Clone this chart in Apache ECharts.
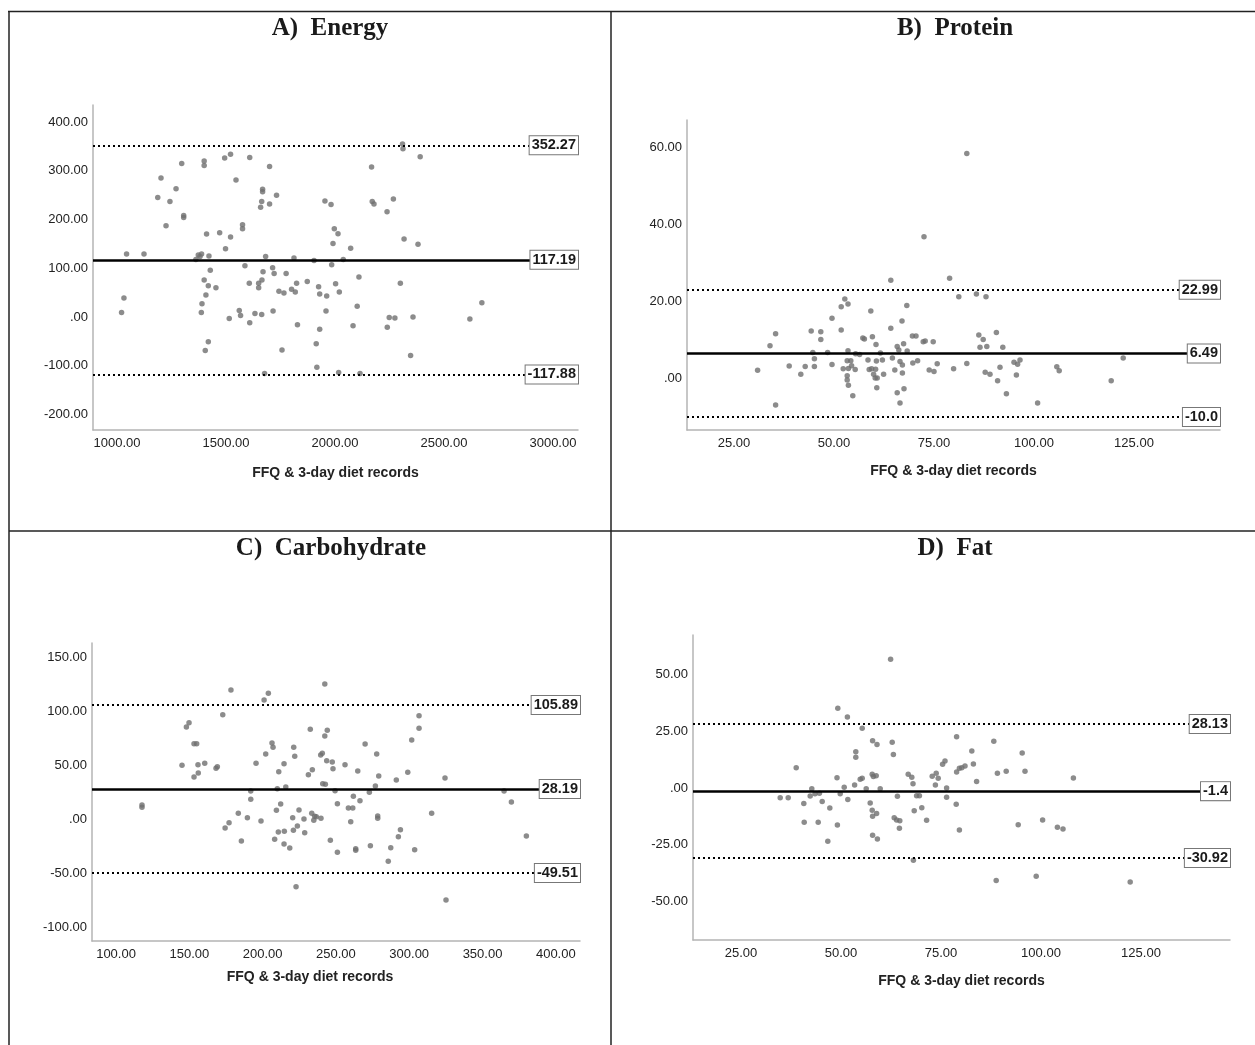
<!DOCTYPE html>
<html>
<head>
<meta charset="utf-8">
<script src="https://cdn.jsdelivr.net/npm/echarts@6/dist/echarts.min.js"></script>
<style>
  html, body { margin: 0; padding: 0; background: #fff; }
  #main { width: 1255px; height: 1045px; }
</style>
</head>
<body>
<div id="main"></div>
<script>
// Bland-Altman points: [mean of FFQ & 3-day records, difference]
var energyPoints = [
  [1044,129],[1124,129],[1032,39],[1021,9],[1297,315],[1202,285],[1271,263],[1187,245],[1243,237],
  [1306,208],[1306,204],[1225,187],[1400,320],[1400,311],[1494,326],[1521,334],[1609,327],[1700,309],
  [1546,281],[1668,262],[1668,257],[1664,237],[1659,225],[1700,232],[1732,250],[1576,189],[1576,181],
  [1411,170],[1471,173],[1521,164],[1498,140],[1362,118],[1373,127],[1388,129],[1381,124],[1422,125],
  [1428,96],[1400,76],[1419,64],[1454,60],[1408,45],[1390,27],[1387,9],[1419,-51],[1405,-69],
  [1682,124],[1587,105],[1714,101],[1721,89],[1670,93],[1665,76],[1650,69],[1650,60],[1607,69],
  [1776,89],[1743,53],[1766,49],[1812,121],[1801,57],[1818,51],[1824,69],[1873,73],[1904,116],
  [1561,13],[1567,3],[1515,-3],[1633,7],[1664,5],[1609,-12],[1716,12],[1828,-16],[1757,-68],
  [1677,-116],[1917,-103],[1914,-55],[1930,-25],[1959,12],[1925,62],[1930,47],[1962,43],[1954,238],
  [1982,231],[1997,181],[1991,151],[2014,171],[1985,107],[2003,68],[2020,51],[2017,-114],[2072,141],
  [2038,118],[2110,82],[2102,22],[2083,-18],[2115,-116],[2168,308],[2171,237],[2179,232],[2268,242],
  [2239,216],[2310,355],[2312,345],[2391,329],[2317,160],[2381,149],[2300,69],[2249,-1],[2275,-2],
  [2358,0],[2240,-21],[2347,-79],[2619,-4],[2674,29]
];
var proteinPoints = [
  [30.9,2.1],[35.4,11.6],[34,8.5],[35.4,-6.9],[38.8,3.2],[41.7,1.1],[42.8,3.1],[44.3,12.3],[46.7,12.1],
  [46.7,10.1],[44.7,6.7],[45.1,5.1],[45.1,3.1],[48.4,6.7],[49.5,3.6],[49.5,15.6],[51.8,12.6],[51.8,18.6],
  [52.7,20.6],[53.5,19.3],[53.5,7.2],[53.3,4.6],[54.2,4.6],[52.3,2.5],[53.6,2.6],[54.4,3.3],[55.3,2.3],
  [53.3,0.7],[53.3,-0.4],[53.6,-1.8],[54.7,-4.5],[55.4,6.4],[56.4,6.2],[59.2,17.5],[57.2,10.5],[57.6,10.2],
  [59.6,10.8],[60.5,8.8],[58.5,4.8],[58.8,2.3],[59.4,2.5],[60.6,4.5],[60.4,2.4],[59.9,1.1],[60.3,0.1],
  [60.8,0.1],[60.7,-2.4],[61.6,6.6],[62.1,4.8],[62.4,1.1],[64.2,25.5],[64.2,13.0],[64.6,5.3],[65.2,2.2],
  [65.8,8.3],[66.2,7.4],[65.8,-3.7],[66.5,-6.4],[66.5,4.4],[67.1,3.5],[67.1,1.4],[67.5,-2.7],[67,14.9],
  [67.4,9.0],[68.2,18.9],[68.3,7.1],[69.6,11.0],[70.5,11.0],[69.7,4.0],[70.9,4.6],[72.3,9.5],[72.8,9.7],
  [72.5,36.8],[73.8,2.2],[75,1.8],[74.8,9.5],[75.8,3.8],[78.9,26.0],[79.9,2.5],[83.2,58.4],[81.2,21.2],
  [85.6,21.9],[88,21.2],[83.2,3.9],[86.2,11.3],[87.3,10.1],[86.5,8.1],[88.2,8.3],[90.6,11.9],[92.2,8.1],
  [87.8,1.6],[89,1.1],[90.9,-0.6],[91.5,2.9],[93.1,-4.0],[95,4.2],[95.9,3.7],[96.5,4.8],[95.6,0.9],
  [100.9,-6.4],[105.7,3.0],[106.3,2.0],[119.3,-0.6],[122.3,5.3]
];
var carbPoints = [
  [117.7,13.4],[117.7,11.3],[145,50.2],[148,85.6],[149.8,89.6],[153.2,70.2],[155,70.2],[155.9,50.7],
  [153.2,39.4],[156.1,43.1],[160.5,52],[168.2,47.4],[169.1,48.9],[172.8,97],[178.4,119.9],[174.4,-7.9],
  [177.1,-3],[183.4,5.7],[185.5,-19.9],[189.6,1.7],[191.9,26.4],[191.9,18.7],[195.5,52],[198.9,-1.4],
  [201,110.6],[203.9,116.9],[202.1,60.6],[206.4,70.8],[207.1,66.8],[210,28.5],[211,44.3],[214.6,51.7],
  [215.8,30.1],[212.3,14.4],[209.4,8.5],[208.2,-18.3],[210.7,-11.6],[214.8,-10.9],[214.6,-22.7],
  [218.5,-26.4],[220.5,1.7],[221,-10],[223.7,-6],[224.8,8.8],[222.8,-62.2],[221.2,66.8],[221.9,58.5],
  [228.2,0.5],[228.7,-12.2],[231.2,41.4],[233.9,46.1],[232.5,83.5],[233.5,5.7],[235.5,3],[234.9,-0.7],
  [236.6,2.6],[239.8,1.1],[239.6,59.7],[240.7,61.3],[242.4,77.3],[244.1,82.6],[242.4,125.5],[243.7,54.4],
  [241,33.1],[242.8,32.6],[247.5,53.2],[248,47],[249.4,26.7],[251,14.6],[246.2,-19.3],[251,-30.4],
  [256.2,50.7],[264.9,44.9],[269.9,69.9],[277.8,60.6],[279.2,40.3],[276.9,31],[272.8,25.2],[266.4,17.4],
  [261.9,21.5],[258.5,10.6],[261.5,10.6],[260.1,-2],[278.5,3.2],[278.5,1.1],[273.5,-24.3],[263.5,-27],
  [263.5,-28.5],[285.7,-38.7],[287.4,-26.1],[292.6,-15.9],[294,-9.4],[303.7,-28],[291.2,36.6],[299,43.7],
  [301.7,73.6],[306.7,84.4],[306.7,96.1],[315.3,5.7],[324.4,38.4],[325.1,-74.5],[364.7,26.4],[369.7,16.2],
  [379.9,-15.3]
];
var fatPoints = [
  [62.4,56.7],[49.2,35.1],[51.6,31.3],[55.3,26.3],[57.9,20.8],[59,19.2],[62.8,20.1],[63.1,14.7],[53.7,16],
  [53.7,13.5],[38.8,8.9],[49,4.5],[50.8,0.3],[53.4,1.3],[54.8,3.8],[55.3,4.3],[56.3,-0.4],[57.8,6],
  [58.1,5],[58.8,5.4],[59.8,-0.4],[34.8,-4.3],[36.8,-4.3],[40.7,-6.9],[40.8,-15.1],[42.3,-3.5],[42.7,-0.3],
  [43.5,-2.6],[44.6,-2.3],[45.3,-6],[44.3,-15.1],[47.2,-8.8],[46.7,-23.5],[49.1,-16.3],[49.8,-2.5],
  [51.7,-5.1],[57.3,-6.6],[57.8,-9.8],[58.9,-11.3],[57.9,-12.5],[57.9,-20.8],[59.1,-22.5],[64.1,-3.7],
  [63.3,-13.1],[63.9,-14.1],[64.7,-14.5],[64.6,-17.8],[66.8,6],[67.7,4.7],[68,1.9],[68.9,-3.4],[69.6,-3.4],
  [70.2,-8.7],[68.3,-10],[71.4,-14.2],[68.1,-31.9],[72.8,5.2],[73.8,6.5],[74.3,4.3],[73.6,1.3],[76.4,0],
  [76.4,-4.1],[75.4,10.4],[76,11.9],[78.9,22.6],[78.9,7],[79.6,8.7],[78.8,-7.2],[79.6,-18.5],[80.2,8.9],
  [81,9.7],[82.7,16.3],[83.1,10.6],[83.9,2.8],[88.2,20.6],[89.1,6.5],[91.3,7.4],[95.3,15.4],[96,7.4],
  [88.8,-40.8],[94.3,-16.2],[98.8,-38.9],[100.4,-14.1],[104.1,-17.3],[105.5,-18.1],[108.1,4.4],[122.3,-41.4]
];

// upper limit, mean difference, lower limit
var energyLines = [352.27, 117.19, -117.88];
var proteinLines = [22.99, 6.49, -10.0];
var carbLines = [105.89, 28.19, -49.51];
var fatLines = [28.13, -1.4, -30.92];
var energyLineLabels = ['352.27', '117.19', '-117.88'];
var proteinLineLabels = ['22.99', '6.49', '-10.0'];
var carbLineLabels = ['105.89', '28.19', '-49.51'];
var fatLineLabels = ['28.13', '-1.4', '-30.92'];

var energyXTicks = [1000, 1500, 2000, 2500, 3000];
var energyYTicks = [-200, -100, 0, 100, 200, 300, 400];
var proteinXTicks = [25, 50, 75, 100, 125];
var proteinYTicks = [0, 20, 40, 60];
var carbXTicks = [100, 150, 200, 250, 300, 350, 400];
var carbYTicks = [-100, -50, 0, 50, 100, 150];
var fatXTicks = [25, 50, 75, 100, 125];
var fatYTicks = [-50, -25, 0, 25, 50];

var xName = 'FFQ & 3-day diet records';

var panels = [
  { title: 'A)  Energy', tx: 330, ty: 29, pts: energyPoints, lines: energyLines, labels: energyLineLabels,
    xt: energyXTicks, yt: energyYTicks, grid: { left: 93, top: 105, width: 485, height: 325 },
    x: [890, 3115], y: [-232, 435], gap: 36, namePad: [0, 0, 0, 0] },
  { title: 'B)  Protein', tx: 955, ty: 29, pts: proteinPoints, lines: proteinLines, labels: proteinLineLabels,
    xt: proteinXTicks, yt: proteinYTicks, grid: { left: 687, top: 120, width: 533, height: 310 },
    x: [13.25, 146.5], y: [-13.4, 67.1], gap: 34, namePad: [0, 0, 0, 0] },
  { title: 'C)  Carbohydrate', tx: 331, ty: 549, pts: carbPoints, lines: carbLines, labels: carbLineLabels,
    xt: carbXTicks, yt: carbYTicks, grid: { left: 92, top: 643, width: 488, height: 298 },
    x: [83.6, 416.5], y: [-112.5, 163.4], gap: 29, namePad: [0, 52, 0, 0] },
  { title: 'D)  Fat', tx: 955, ty: 549, pts: fatPoints, lines: fatLines, labels: fatLineLabels,
    xt: fatXTicks, yt: fatYTicks, grid: { left: 693, top: 635, width: 537, height: 305 },
    x: [13, 147.25], y: [-67, 67.4], gap: 34, namePad: [0, 0, 0, 0] }
];

function fmt(v) {
  return v === 0 ? '.00' : v.toFixed(2);
}

var chart = echarts.init(document.getElementById('main'));

var grids = [], xAxes = [], yAxes = [], series = [];
var axisLine = { show: true, onZero: false, lineStyle: { color: '#b4b4b4', width: 1.5 } };

panels.forEach(function (p, i) {
  grids.push(p.grid);
  xAxes.push({
    type: 'value', gridIndex: i, min: p.x[0], max: p.x[1],
    name: xName, nameLocation: 'middle', nameGap: p.gap,
    nameTextStyle: { fontFamily: 'Liberation Sans', fontWeight: 'bold', fontSize: 14, color: '#222', padding: p.namePad },
    axisLine: axisLine, axisTick: { show: false, customValues: p.xt }, splitLine: { show: false },
    axisLabel: { customValues: p.xt, formatter: fmt, margin: 7, fontFamily: 'Liberation Sans', fontSize: 13, color: '#222' }
  });
  yAxes.push({
    type: 'value', gridIndex: i, min: p.y[0], max: p.y[1],
    axisLine: axisLine, axisTick: { show: false, customValues: p.yt }, splitLine: { show: false },
    axisLabel: { customValues: p.yt, formatter: fmt, margin: 5, fontFamily: 'Liberation Sans', fontSize: 13, color: '#222' }
  });
  series.push({
    type: 'scatter', xAxisIndex: i, yAxisIndex: i, data: p.pts,
    symbolSize: 5.5, itemStyle: { color: '#6f6f6f' },
    markLine: {
      silent: true, symbol: 'none', animation: false,
      data: p.lines.map(function (v, k) {
        return {
          yAxis: v,
          lineStyle: k === 1 ? { color: '#000', width: 2.5, type: 'solid' }
                             : { color: '#000', width: 2, type: [2, 3] },
          label: {
            show: true, position: 'end', distance: 0, align: 'right', verticalAlign: 'middle',
            formatter: p.labels[k],
            fontFamily: 'Liberation Sans', fontWeight: 'bold', fontSize: 14.5, color: '#1a1a1a',
            backgroundColor: '#fff', borderColor: '#777', borderWidth: 1, padding: [2, 2, 1, 2]
          }
        };
      })
    }
  });
});

var graphics = [
  { type: 'line', shape: { x1: 8, y1: 11.5, x2: 1255, y2: 11.5 }, style: { stroke: '#222', lineWidth: 1.5 } },
  { type: 'line', shape: { x1: 9, y1: 531, x2: 1255, y2: 531 }, style: { stroke: '#222', lineWidth: 1.5 } },
  { type: 'line', shape: { x1: 9, y1: 11, x2: 9, y2: 1045 }, style: { stroke: '#222', lineWidth: 1.5 } },
  { type: 'line', shape: { x1: 611, y1: 11, x2: 611, y2: 1045 }, style: { stroke: '#222', lineWidth: 1.5 } }
];
panels.forEach(function (p) {
  graphics.push({
    type: 'text', x: p.tx, y: p.ty,
    style: { text: p.title, align: 'center', verticalAlign: 'middle',
             font: 'bold 25px "Liberation Serif"', fill: '#1a1a1a' }
  });
});

chart.setOption({
  animation: false,
  grid: grids,
  xAxis: xAxes,
  yAxis: yAxes,
  series: series,
  graphic: graphics
});
</script>
</body>
</html>
